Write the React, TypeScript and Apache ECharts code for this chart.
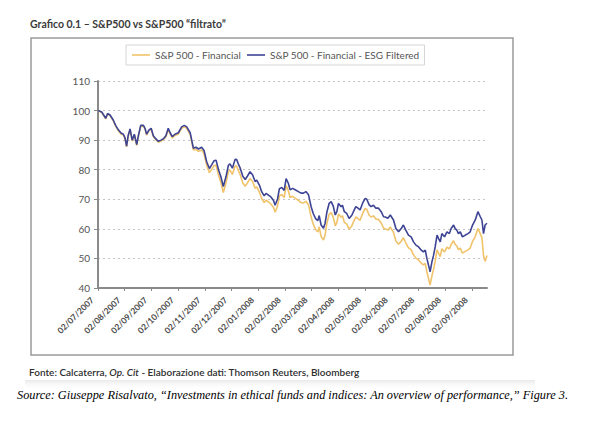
import React, { useEffect, useRef } from "react";
import * as echarts from "echarts";

// x-axis tick labels (one per month)
const monthLabels = [
  "02/07/2007", "02/08/2007", "02/09/2007", "02/10/2007", "02/11/2007",
  "02/12/2007", "02/01/2008", "02/02/2008", "02/03/2008", "02/04/2008",
  "02/05/2008", "02/06/2008", "02/07/2008", "02/08/2008", "02/09/2008",
];

// time of each observation, in months since 02/07/2007
const monthPos = [
  0, 0.14, 0.29, 0.36, 0.45, 0.57, 0.66, 0.76, 0.86, 0.95,
  1.01, 1.07, 1.13, 1.2, 1.28, 1.36, 1.45, 1.51, 1.6, 1.7,
  1.76, 1.82, 1.91, 1.99, 2.07, 2.16, 2.26, 2.36, 2.45, 2.54,
  2.63, 2.7, 2.78, 2.88, 3.01, 3.13, 3.23, 3.32, 3.45, 3.57,
  3.67, 3.76, 3.88, 3.97, 4.07, 4.17, 4.26, 4.34, 4.42, 4.51,
  4.6, 4.69, 4.79, 4.88, 4.94, 5.03, 5.13, 5.19, 5.25, 5.32,
  5.42, 5.51, 5.59, 5.69, 5.79, 5.88, 5.94, 6.04, 6.13, 6.22,
  6.29, 6.38, 6.47, 6.57, 6.63, 6.72, 6.79, 6.88, 6.97, 7.04,
  7.12, 7.19, 7.28, 7.38, 7.5, 7.6, 7.69, 7.78, 7.88, 7.98,
  8.06, 8.15, 8.23, 8.28, 8.35, 8.44, 8.5, 8.57, 8.65, 8.73,
  8.81, 8.88, 8.94, 9.0, 9.1, 9.15, 9.22, 9.31, 9.4, 9.5,
  9.56, 9.65, 9.73, 9.81, 9.9, 10.0, 10.06, 10.15, 10.22, 10.31,
  10.4, 10.5, 10.6, 10.69, 10.75, 10.85, 10.94, 11.06, 11.15, 11.25,
  11.35, 11.43, 11.52, 11.62, 11.72, 11.81, 11.9, 12.0, 12.1, 12.18,
  12.25, 12.31, 12.37, 12.43, 12.5, 12.56, 12.62, 12.69, 12.75, 12.81,
  12.87, 12.97, 13.06, 13.15, 13.22, 13.31, 13.37, 13.43, 13.49, 13.56,
  13.64, 13.75, 13.85, 13.93, 14.02, 14.12, 14.22, 14.31, 14.37, 14.43,
  14.49, 14.56,
];

// S&P 500 - Financial - ESG Filtered
const esgValues = [
  100, 99.5, 97.4, 99, 98.5, 96.8, 95, 93.5, 92.4, 92,
  90.8, 88, 91.6, 93.8, 90, 92, 88.5, 91.5, 95, 95,
  94, 92, 93.5, 94, 91.5, 90.5, 89.6, 90, 90.5, 91.5,
  94, 92.5, 91.2, 92, 92.5, 94.5, 95, 94.5, 92.5, 87.3,
  87.6, 87, 87.6, 86.5, 82.6, 80.4, 81.7, 83, 83.2, 80,
  77.6, 74.3, 77.6, 81.5, 82, 80.5, 83.5, 83.4, 82, 80.6,
  77.8, 76.7, 77.8, 79.3, 78.2, 76, 76.5, 74.8, 72.5, 71.2,
  72, 71.4, 70.8, 69.6, 68, 70.1, 73.6, 74, 73, 77,
  75.5, 73.2, 73.7, 73.2, 72.6, 72.1, 72.1, 72.6, 71.5, 67.4,
  65.1, 63.4, 62.8, 64.5, 61.3, 60.2, 61.9, 65.8, 68.6, 69.2,
  67.5, 64.7, 65.8, 68.6, 67.5, 68, 65.8, 65.2, 63.5, 64.6,
  65.8, 67.5, 67, 66.4, 68.6, 70.3, 70, 68.1, 67.5, 68,
  67, 67, 65.8, 64.1, 64, 63.6, 64.7, 63, 60.1, 59,
  60.1, 61.3, 59.6, 57.9, 57.3, 55.6, 54.5, 53.9, 52.8, 52.2,
  52.8, 50, 47.8, 45.5, 48.9, 51.1, 53.9, 57.9, 56.7, 55.6,
  58.4, 57.3, 59, 58.4, 60.1, 61.3, 60.1, 59.6, 58.4, 59,
  57.3, 57.9, 58.4, 59, 61.3, 63, 65.8, 64.1, 63, 58.4,
  61.3, 61.9,
];

// S&P 500 - Financial
const finValues = [
  100, 99.3, 97.2, 98.8, 98.3, 96.6, 94.8, 93.2, 92.1, 91.7,
  90.5, 87.7, 91.3, 93.5, 89.7, 91.7, 88.2, 91.2, 94.7, 94.7,
  93.7, 91.7, 93.2, 93.7, 91.2, 90.2, 89.3, 89.7, 90.2, 91.1,
  93.6, 92.1, 90.8, 91.6, 92.1, 94.0, 94.5, 94.0, 91.9, 86.7,
  86.9, 86.2, 86.7, 85.4, 81.4, 79.0, 80.2, 81.4, 81.5, 78.2,
  75.7, 72.3, 75.5, 79.4, 79.9, 78.4, 81.3, 81.2, 79.8, 78.4,
  75.5, 74.4, 75.5, 77.0, 75.9, 73.7, 74.2, 72.5, 70.2, 68.9,
  69.7, 69.1, 68.4, 67.2, 65.6, 67.7, 71.2, 71.6, 70.6, 74.6,
  73.0, 70.6, 71.0, 70.4, 69.6, 68.9, 68.8, 69.3, 68.1, 63.9,
  61.5, 59.7, 59.0, 60.7, 57.4, 56.2, 58.0, 62.0, 64.9, 65.5,
  63.8, 61.0, 62.1, 65.0, 63.9, 64.4, 62.2, 61.6, 59.9, 61.0,
  62.3, 64.0, 63.5, 62.9, 65.1, 66.9, 66.6, 64.6, 64.0, 64.4,
  63.3, 63.2, 62.0, 60.2, 60.0, 59.6, 60.6, 58.8, 55.9, 54.8,
  55.8, 57.0, 55.3, 53.6, 53.0, 51.2, 50.1, 49.5, 48.4, 47.8,
  48.3, 45.5, 43.2, 41.0, 44.2, 46.3, 49.0, 52.9, 51.7, 50.6,
  53.3, 52.2, 53.8, 53.2, 54.8, 56.0, 54.7, 54.2, 53.0, 53.5,
  51.8, 52.4, 52.9, 53.5, 55.8, 57.4, 60.1, 58.3, 57.0, 51.0,
  49.0, 51.0,
];

const yTicks = { min: 40, max: 110, interval: 10 };

const seriesNames = ["S&P 500 - Financial", "S&P 500 - Financial - ESG Filtered"];
const seriesColors = ["#f0c36a", "#3d4494"];

export default function App() {
  const ref = useRef<HTMLDivElement>(null);

  useEffect(() => {
    if (!ref.current) return;
    const chart = echarts.init(ref.current, undefined, { renderer: "svg" });
    const uiFont = "Lato, 'Open Sans', sans-serif";
    const option: any = {
      animation: false,
      backgroundColor: "#ffffff",
      textStyle: { fontFamily: uiFont },
      legend: {
        left: 126,
        top: 45,
        icon: "rect",
        itemWidth: 18,
        itemHeight: 1.6,
        itemGap: 6,
        padding: [5, 5, 5, 6],
        borderColor: "#d6d6d6",
        borderWidth: 1,
        textStyle: { fontSize: 10, color: "#555", fontFamily: uiFont },
        data: seriesNames,
      },
      grid: { left: 98, right: 112, top: 81, bottom: 135 },
      xAxis: {
        type: "value",
        min: 0,
        max: monthPos[monthPos.length - 1],
        interval: 1,
        axisLine: { onZero: false, lineStyle: { color: "#8a8a8a", width: 2 } },
        axisTick: { show: true, length: 3, lineStyle: { color: "#8a8a8a" } },
        splitLine: { show: false },
        axisLabel: {
          rotate: 45,
          margin: 5,
          padding: [0, 8, 0, 0],
          fontSize: 8.5,
          fontWeight: "bold",
          color: "#4a4a4a",
          showMaxLabel: false,
          formatter: (v: number) =>
            Number.isInteger(v) && monthLabels[v] ? monthLabels[v] : "",
        },
      },
      yAxis: {
        type: "value",
        min: yTicks.min,
        max: yTicks.max,
        interval: yTicks.interval,
        axisLine: { show: true, lineStyle: { color: "#8a8a8a", width: 2 } },
        axisTick: { show: true, length: 4, lineStyle: { color: "#8a8a8a" } },
        axisLabel: { fontSize: 10, color: "#555", margin: 8 },
        splitLine: {
          show: true,
          lineStyle: { color: "#c4c4c4", type: [2, 3], width: 1.2 },
        },
      },
      series: [
        {
          name: seriesNames[0],
          type: "line",
          showSymbol: false,
          symbol: "none",
          color: seriesColors[0],
          lineStyle: { width: 1.6, color: seriesColors[0] },
          data: monthPos.map((m, i) => [m, finValues[i]]),
          z: 2,
        },
        {
          name: seriesNames[1],
          type: "line",
          showSymbol: false,
          symbol: "none",
          color: seriesColors[1],
          lineStyle: { width: 1.6, color: seriesColors[1] },
          data: monthPos.map((m, i) => [m, esgValues[i]]),
          z: 3,
        },
      ],
      graphic: [
        {
          type: "rect",
          shape: { x: 31, y: 38, width: 482, height: 317 },
          style: { fill: "none", stroke: "#9a9a9a", lineWidth: 1.5 },
          z: -1,
        },
        {
          type: "text",
          x: 30,
          y: 18,
          style: {
            text: "Grafico 0.1 – S&P500 vs S&P500 “filtrato”",
            fontFamily: uiFont,
            fontSize: 10.5,
            fontWeight: "bold",
            fill: "#3a3a3a",
          },
        },
        {
          type: "rect",
          shape: { x: 25, y: 380, width: 510, height: 10 },
          style: {
            fill: new echarts.graphic.LinearGradient(0, 0, 0, 1, [
              { offset: 0, color: "rgba(228,228,228,0.8)" },
              { offset: 1, color: "rgba(255,255,255,0)" },
            ]),
          },
          z: -2,
        },
        {
          type: "text",
          x: 29,
          y: 367,
          style: {
            text: "{a|Fonte: Calcaterra, }{b|Op. Cit}{a| - Elaborazione dati: Thomson Reuters, Bloomberg}",
            rich: {
              a: { fontFamily: uiFont, fontSize: 10, fill: "#2f2f2f", fontWeight: 600 },
              b: { fontFamily: uiFont, fontSize: 10, fill: "#2f2f2f", fontStyle: "italic", fontWeight: 600 },
            },
          },
        },
        {
          type: "text",
          x: 17,
          y: 389,
          style: {
            text: "Source: Giuseppe Risalvato, “Investments in ethical funds and indices: An overview of performance,” Figure 3.",
            fontFamily: "'Liberation Serif', 'DejaVu Serif', serif",
            fontStyle: "italic",
            fontSize: 12.3,
            fill: "#000",
          },
        },
      ],
    };
    chart.setOption(option);
    return () => chart.dispose();
  }, []);

  return (
    <div
      ref={ref}
      style={{ position: "fixed", left: 0, top: 0, width: 599, height: 423 }}
    />
  );
}
